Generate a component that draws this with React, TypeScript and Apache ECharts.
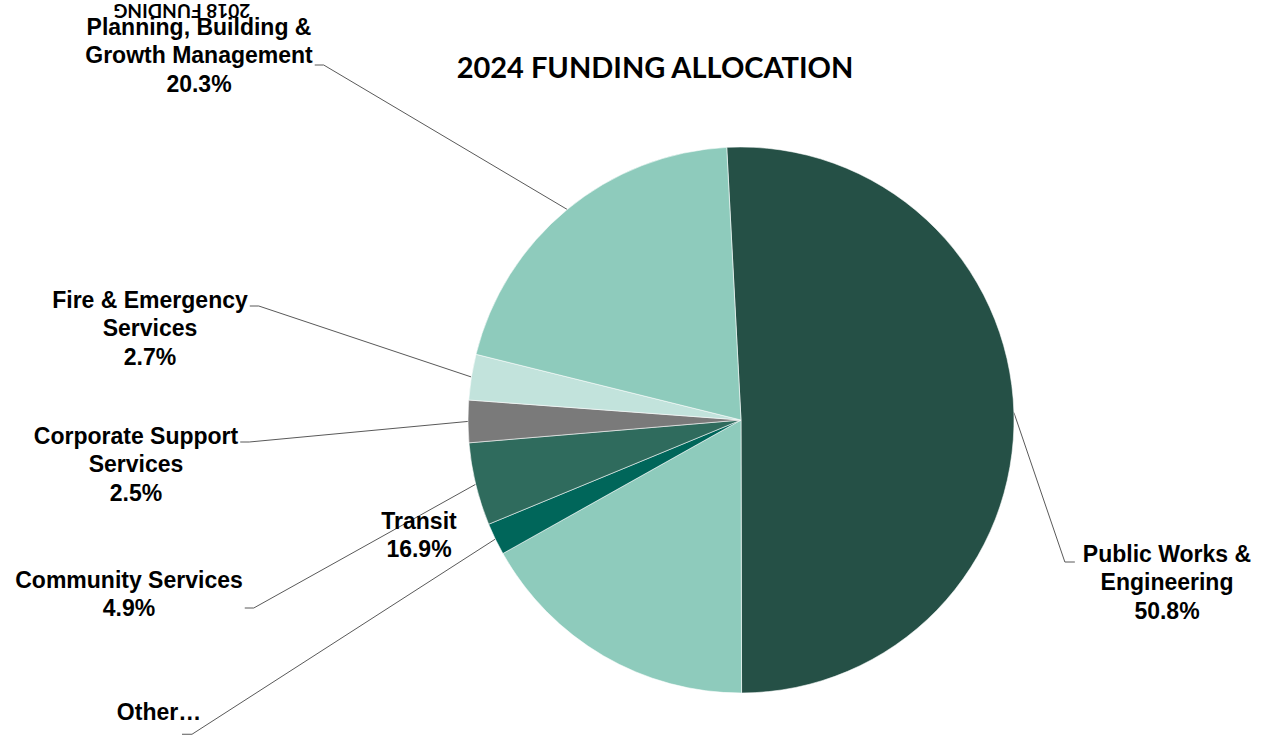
import React, { useEffect, useRef } from 'react';
import * as echarts from 'echarts';

// ---- data ----
const categories = [
  'Public Works &\nEngineering',
  'Transit',
  'Other…',
  'Community Services',
  'Corporate Support\nServices',
  'Fire & Emergency\nServices',
  'Planning, Building &\nGrowth Management',
];
const shares = [50.8, 16.9, 1.9, 4.9, 2.5, 2.7, 20.3];
const showPercent = [true, true, false, true, true, true, true];
const colors = ['#255046', '#8ECBBC', '#00665A', '#2F6B5D', '#7A7A7A', '#C2E3DC', '#8ECBBC'];
const chartTitle = '2024 FUNDING ALLOCATION';
const stampText = '2018 FUNDING';

// label placement (layout only): centre of label block, where the leader line attaches
const labelPlacement = [
  { x: 1167, y: 582, side: 'left', dy: -20 },
  { x: 419, y: 535, side: 'none', dy: 0 },
  { x: 159, y: 712, side: 'bottom', dy: 0 },
  { x: 129, y: 594, side: 'right', dy: 14 },
  { x: 136, y: 464, side: 'right', dy: -22 },
  { x: 150, y: 328, side: 'right', dy: -22 },
  { x: 199, y: 55, side: 'right', dy: 10 },
];

export default function App() {
  const ref = useRef<HTMLDivElement>(null);

  useEffect(() => {
    if (!ref.current) return;
    const chart = echarts.init(ref.current, undefined, { renderer: 'svg' });

    const data = categories.map((name, i) => ({
      name,
      value: shares[i],
      itemStyle: { color: colors[i] },
      labelLine: { show: labelPlacement[i].side !== 'none' },
    }));

    chart.setOption({
      animation: false,
      backgroundColor: '#ffffff',
      graphic: [
        {
          type: 'text',
          x: 655,
          y: 66,
          style: {
            text: chartTitle,
            fontFamily: 'Lato',
            fontWeight: 'bold',
            fontSize: 29,
            fill: '#000',
            textAlign: 'center',
            textVerticalAlign: 'middle',
          },
        },
        {
          type: 'text',
          x: 182,
          y: 11,
          rotation: Math.PI,
          style: {
            text: stampText,
            fontFamily: 'Lato',
            fontWeight: 'bold',
            fontSize: 19,
            fill: '#000',
            textAlign: 'center',
            textVerticalAlign: 'middle',
          },
        },
      ],
      series: [
        {
          type: 'pie',
          center: [741, 420],
          radius: 273,
          startAngle: 93,
          clockwise: true,
          avoidLabelOverlap: false,
          itemStyle: { borderColor: 'rgba(255,255,255,0.7)', borderWidth: 0.8 },
          label: {
            show: true,
            position: 'outer',
            alignTo: 'none',
            fontFamily: 'Liberation Sans, Arial, sans-serif',
            fontWeight: 'bold',
            fontSize: 23,
            lineHeight: 28.5,
            color: '#000',
            formatter: (p: any) =>
              showPercent[p.dataIndex] ? `${p.name}\n${Number(p.value).toFixed(1)}%` : p.name,
          },
          labelLine: {
            show: true,
            length: 10,
            length2: 10,
            lineStyle: { color: '#595959', width: 1 },
          },
          labelLayout: (params: any) => {
            const p = labelPlacement[params.dataIndex];
            const w = params.labelRect.width;
            const h = params.labelRect.height;
            const out: any = { x: p.x, y: p.y, align: 'center', verticalAlign: 'middle' };
            const pts = params.labelLinePoints;
            if (pts && pts.length && p.side !== 'none') {
              const start = [pts[0][0], pts[0][1]];
              let end: number[];
              let bend: number[];
              if (p.side === 'right') {
                end = [p.x + w / 2 + 2, p.y + p.dy];
                bend = [end[0] + 9, end[1]];
              } else if (p.side === 'left') {
                end = [p.x - w / 2 - 8, p.y + p.dy];
                bend = [end[0] - 10, end[1]];
              } else {
                end = [p.x + 23, p.y + h / 2 + 8];
                bend = [end[0] + 10, end[1]];
              }
              out.labelLinePoints = [start, bend, end];
            }
            return out;
          },
          data,
        },
      ],
    });

    return () => chart.dispose();
  }, []);

  return (
    <div
      ref={ref}
      style={{ position: 'fixed', left: 0, top: 0, width: 1271, height: 735 }}
    />
  );
}
